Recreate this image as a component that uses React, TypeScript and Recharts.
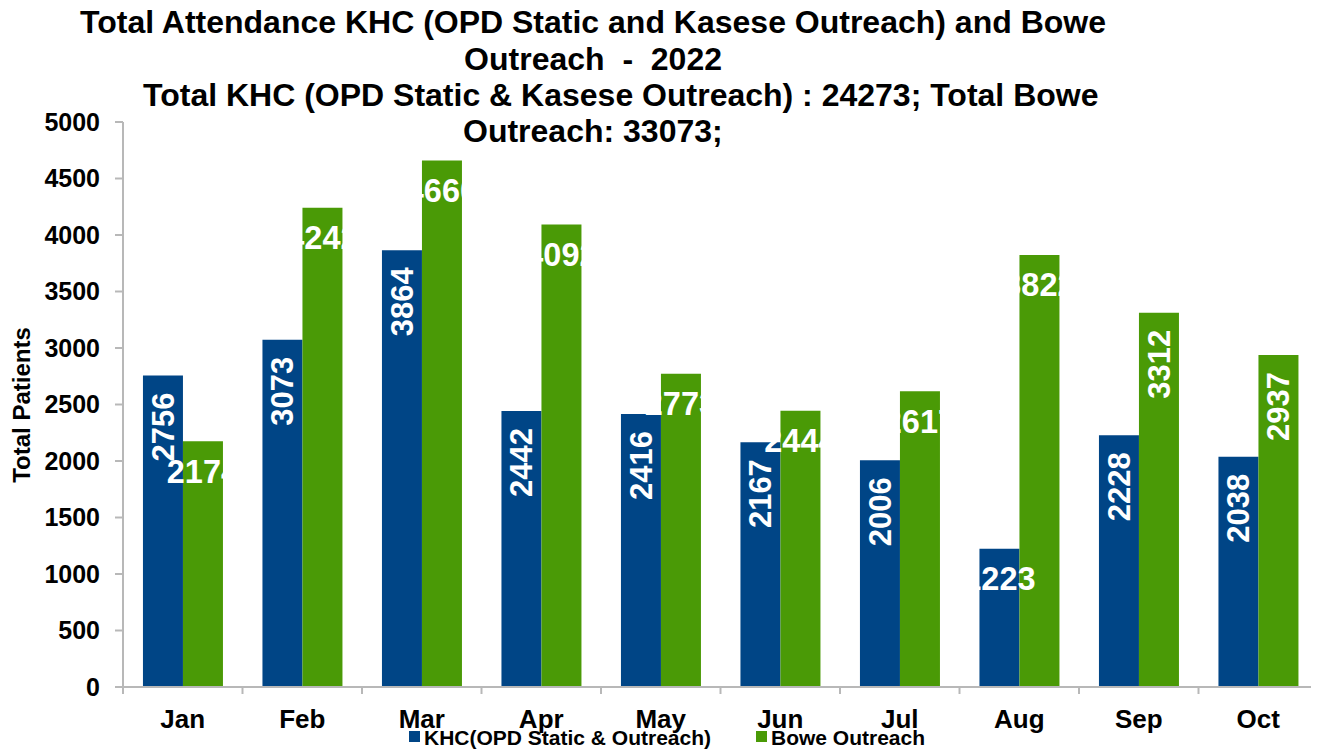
import React from 'react';
import { BarChart, Bar, XAxis, YAxis, LabelList } from 'recharts';

const months = ['Jan', 'Feb', 'Mar', 'Apr', 'May', 'Jun', 'Jul', 'Aug', 'Sep', 'Oct'];
const khcValues = [2756, 3073, 3864, 2442, 2416, 2167, 2006, 1223, 2228, 2038];
const boweValues = [2174, 4242, 4660, 4092, 2773, 2444, 2617, 3822, 3312, 2937];
const yTicks = [0, 500, 1000, 1500, 2000, 2500, 3000, 3500, 4000, 4500, 5000];
const seriesNames = ['KHC(OPD Static & Outreach)', 'Bowe Outreach'];
const titleLines = [
  'Total Attendance KHC (OPD Static and Kasese Outreach) and Bowe',
  'Outreach  -  2022',
  'Total KHC (OPD Static & Kasese Outreach) : 24273; Total Bowe',
  'Outreach: 33073;',
];

const data = months.map((m, i) => ({ month: m, khc: khcValues[i], bowe: boweValues[i] }));

const FONT = '"Liberation Sans", Arial, Helvetica, sans-serif';
const BLUE = '#004586';
const GREEN = '#4a9a06';
const GRAY = '#b8b8b8';

const W = 1311;
const H = 743;
const MARGIN = { top: 114, right: 1, bottom: 24, left: 0 };
const Y_AXIS_W = 115;
const PLOT_W = W - MARGIN.left - MARGIN.right - Y_AXIS_W;
const BAND = PLOT_W / months.length;

const makeLabel = (horizontal: number[]) => (props: any) => {
  const { x, y, width, value, index } = props;
  const cx = Number(x) + Number(width) / 2;
  const top = Number(y);
  if (horizontal.includes(index)) {
    return (
      <text x={cx} y={top + 30} dy="0.35em" textAnchor="middle" fill="#fff" fontSize={32.5} fontWeight="bold" fontFamily={FONT}>
        {value}
      </text>
    );
  }
  const ty = top + 17;
  return (
    <text x={cx} y={ty} dy="0.35em" transform={`rotate(-90 ${cx} ${ty})`} textAnchor="end" fill="#fff" fontSize={31} fontWeight="bold" fontFamily={FONT}>
      {value}
    </text>
  );
};

const XTick = (props: any) => {
  const { x, y, payload, index } = props;
  const half = BAND / 2;
  return (
    <g>
      <line x1={x - half} y1={y} x2={x - half} y2={y + 7} stroke={GRAY} strokeWidth={2} />
      {index === months.length - 1 && <line x1={x + half} y1={y} x2={x + half} y2={y + 7} stroke={GRAY} strokeWidth={2} />}
      <text x={x} y={y + 41} textAnchor="middle" fill="#000" fontSize={26} fontWeight="bold" fontFamily={FONT}>
        {payload.value}
      </text>
    </g>
  );
};

export default function App() {
  return (
    <div style={{ position: 'relative', width: W, height: H, fontFamily: FONT }}>
      <BarChart width={W} height={H} data={data} margin={MARGIN} barCategoryGap="16.7%" barGap={0}>
        <XAxis
          dataKey="month"
          interval={0}
          height={40}
          tickSize={0}
          tickMargin={0}
          tickLine={false}
          axisLine={{ stroke: GRAY, strokeWidth: 2 }}
          tick={<XTick />}
        />
        <XAxis xAxisId="top" dataKey="month" orientation="top" height={0} tick={false} tickLine={false} axisLine={{ stroke: GRAY, strokeWidth: 2 }} />
        <YAxis
          domain={[0, 5000]}
          ticks={yTicks}
          width={Y_AXIS_W}
          tickSize={8}
          tickMargin={15}
          interval={0}
          tickLine={{ stroke: GRAY, strokeWidth: 2 }}
          axisLine={{ stroke: GRAY, strokeWidth: 2 }}
          tick={{ fontSize: 25, fontWeight: 'bold', fill: '#000', fontFamily: FONT }}
        />
        <YAxis yAxisId="right" orientation="right" domain={[0, 5000]} width={0} tick={false} tickLine={false} axisLine={{ stroke: GRAY, strokeWidth: 2 }} />
        <Bar dataKey="khc" name={seriesNames[0]} fill={BLUE} isAnimationActive={false}>
          <LabelList dataKey="khc" content={makeLabel([7])} />
        </Bar>
        <Bar dataKey="bowe" name={seriesNames[1]} fill={GREEN} isAnimationActive={false}>
          <LabelList dataKey="bowe" content={makeLabel([0, 1, 2, 3, 4, 5, 6, 7])} />
        </Bar>
      </BarChart>
      <svg width={W} height={H} style={{ position: 'absolute', left: 0, top: 0, pointerEvents: 'none' }}>
        <g fontFamily={FONT} fontWeight="bold" fill="#000">
          <text x={72} y={25} fontSize={32}>{titleLines[0]}</text>
          <text x={714} y={62} fontSize={32} textAnchor="end" style={{ whiteSpace: 'pre' }}>{titleLines[1]}</text>
          <text x={135} y={98} fontSize={32}>{titleLines[2]}</text>
          <text x={455} y={134} fontSize={32}>{titleLines[3]}</text>
          <text x={14} y={397} fontSize={24} textAnchor="middle" dy="0.35em" transform="rotate(-90 14 397)">Total Patients</text>
          <rect x={401} y={723} width={11} height={11} fill={BLUE} />
          <text x={416} y={737} fontSize={21}>{seriesNames[0]}</text>
          <rect x={748} y={723} width={11} height={11} fill={GREEN} />
          <text x={763} y={737} fontSize={21}>{seriesNames[1]}</text>
        </g>
      </svg>
    </div>
  );
}
